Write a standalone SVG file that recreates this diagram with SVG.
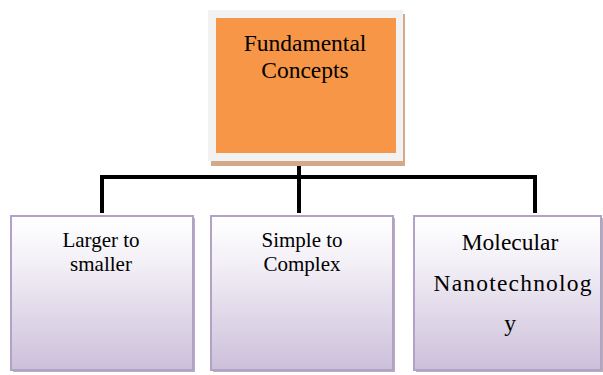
<svg xmlns="http://www.w3.org/2000/svg" width="603" height="375" viewBox="0 0 603 375">
<defs>
<linearGradient id="lav" x1="0" y1="0" x2="0" y2="1">
<stop offset="0" stop-color="#ffffff"/>
<stop offset="0.3" stop-color="#f3f0f7"/>
<stop offset="1" stop-color="#ccc0da"/>
</linearGradient>
<style>
text{font-family:'Liberation Serif','Times New Roman',serif;fill:#000;text-anchor:middle}
.box{fill:url(#lav);stroke:#b3a2c7;stroke-width:2}
.sh{fill:#b8b0bf}
.conn{fill:none;stroke:#000;stroke-width:4}
</style>
</defs>
<rect width="603" height="375" fill="#fff"/>
<g id="connectors">
<path class="conn" d="M299 157 V213"/>
<path class="conn" d="M102 213 V177 H535 V213"/>
</g>
<g id="top">
<rect x="211" y="14" width="194" height="152" fill="#d4a98a"/>
<rect x="208" y="10" width="195" height="151" fill="#f2f2f2"/>
<rect x="216" y="18" width="180" height="135" fill="#f79646"/>
<text x="305" y="51" font-size="23.5">Fundamental</text>
<text x="305" y="77.5" font-size="23.5">Concepts</text>
</g>
<g id="n1">
<rect class="sh" x="13" y="218" width="182" height="154"/>
<rect class="box" x="11" y="216" width="182" height="154"/>
<text x="101" y="246.5" font-size="21">Larger to</text>
<text x="101" y="271" font-size="21">smaller</text>
</g>
<g id="n2">
<rect class="sh" x="213" y="218" width="182" height="154"/>
<rect class="box" x="211" y="216" width="182" height="154"/>
<text x="302" y="246.5" font-size="21">Simple to</text>
<text x="302" y="271" font-size="21">Complex</text>
</g>
<g id="n3">
<rect class="sh" x="416" y="218" width="187" height="154"/>
<rect class="box" x="414" y="216" width="187" height="154"/>
<text x="510" y="250" font-size="23.5">Molecular</text>
<text x="512.5" y="291" font-size="23.5" textLength="158" lengthAdjust="spacing">Nanotechnolog</text>
<text x="510" y="331" font-size="23.5">y</text>
</g>
</svg>
